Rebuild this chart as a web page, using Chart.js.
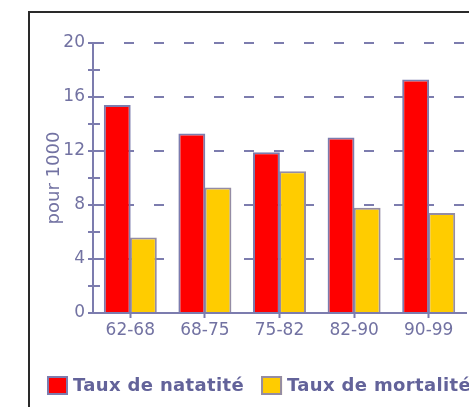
<!DOCTYPE html>
<html>
<head>
<meta charset="utf-8">
<script src="https://cdn.jsdelivr.net/npm/chart.js@4"></script>
<style>
    html, body { margin: 0; padding: 0; background: #ffffff; overflow: hidden; }
    #wrap { position: relative; width: 469px; height: 407px; }
    #frame {
        position: absolute; left: 28px; top: 11px; width: 1000px; height: 1000px;
        border-top: 2px solid #2a2a2a; border-left: 2px solid #2a2a2a;
    }
    canvas { position: absolute; left: 0; top: 0; }
</style>
</head>
<body>
<div id="wrap">
    <div id="frame"></div>
    <canvas id="chart" width="469" height="407"></canvas>
</div>
<script>
'use strict';

// Periods and rates (pour 1000)
const periods = ['62-68', '68-75', '75-82', '82-90', '90-99'];
const natalite = [15.4, 13.3, 11.9, 13.0, 17.3];
const mortalite = [5.6, 9.3, 10.5, 7.8, 7.4];
const seriesNames = ['Taux de natatité', 'Taux de mortalité'];

const yMin = 0;
const yMax = 20;
const yStep = 2;      // minor ticks every 2, labels every 4

const SLATE = '#7c7cae';
const TEXT = '#7272a2';
const FONT = 'DejaVu Sans, Verdana, sans-serif';

/**
 * Legend drawn by hand so the second item runs off the edge like the original
 */
const frameLegend = {
    id: 'frameLegend',
    afterDraw(chart) {
        const ctx = chart.ctx;
        ctx.save();
        ctx.font = 'bold 18px ' + FONT;
        ctx.letterSpacing = '0.35px';
        ctx.textBaseline = 'middle';
        let x = 47;
        const y = 376;
        chart.data.datasets.forEach((ds) => {
            ctx.fillStyle = ds.backgroundColor;
            ctx.fillRect(x, y, 21, 19);
            ctx.strokeStyle = ds.borderColor;
            ctx.lineWidth = 2;
            ctx.strokeRect(x + 1, y + 1, 19, 17);
            ctx.fillStyle = '#63639a';
            ctx.fillText(ds.label, x + 26, y + 10);
            x += 26 + ctx.measureText(ds.label).width + 17;
        });
        ctx.restore();
    }
};

function initChart() {
    const ctx = document.getElementById('chart');

    new Chart(ctx, {
        type: 'bar',
        data: {
            labels: periods,
            datasets: [{
                label: seriesNames[0],
                data: natalite,
                backgroundColor: '#ff0000',
                borderColor: SLATE,
                borderWidth: 2
            }, {
                label: seriesNames[1],
                data: mortalite,
                backgroundColor: '#ffcc00',
                borderColor: '#948ca4',
                borderWidth: 2
            }]
        },
        options: {
            responsive: false,
            animation: false,
            layout: {
                padding: { left: 30, top: 43, right: 3, bottom: 54 }
            },
            datasets: {
                bar: { categoryPercentage: 0.7, barPercentage: 1.03 }
            },
            plugins: {
                legend: { display: false },
                tooltip: { enabled: false }
            },
            scales: {
                x: {
                    afterFit: (scale) => { scale.height = 40; },
                    grid: {
                        offset: false,
                        drawOnChartArea: false,
                        drawTicks: true,
                        tickLength: 5,
                        tickColor: SLATE,
                        tickWidth: 2
                    },
                    border: { display: true, color: SLATE, width: 2 },
                    ticks: {
                        color: TEXT,
                        padding: 2,
                        font: { family: FONT, size: 17 }
                    }
                },
                y: {
                    min: yMin,
                    max: yMax,
                    afterFit: (scale) => { scale.width = 63; },
                    grid: {
                        color: SLATE,
                        lineWidth: 2,
                        tickLength: 5,
                        tickColor: SLATE,
                        tickWidth: 2,
                        tickBorderDash: []
                    },
                    border: {
                        display: true,
                        color: SLATE,
                        width: 2,
                        // major lines dashed across, minor ones only a short stub
                        dash: (c) => {
                            if (!c.tick) return [];
                            return c.tick.value % 4 === 0 ? [10, 20] : [6, 1000];
                        }
                    },
                    title: {
                        display: true,
                        text: 'pour 1000',
                        color: TEXT,
                        padding: { top: 14, bottom: 0 },
                        font: { family: FONT, size: 18 }
                    },
                    ticks: {
                        stepSize: yStep,
                        color: TEXT,
                        padding: 3,
                        font: { family: FONT, size: 17 },
                        callback: (v) => (v % 4 === 0 ? v : '')
                    }
                }
            }
        },
        plugins: [frameLegend]
    });
}

if (document.readyState === 'loading') {
    document.addEventListener('DOMContentLoaded', initChart);
} else {
    initChart();
}
</script>
</body>
</html>
